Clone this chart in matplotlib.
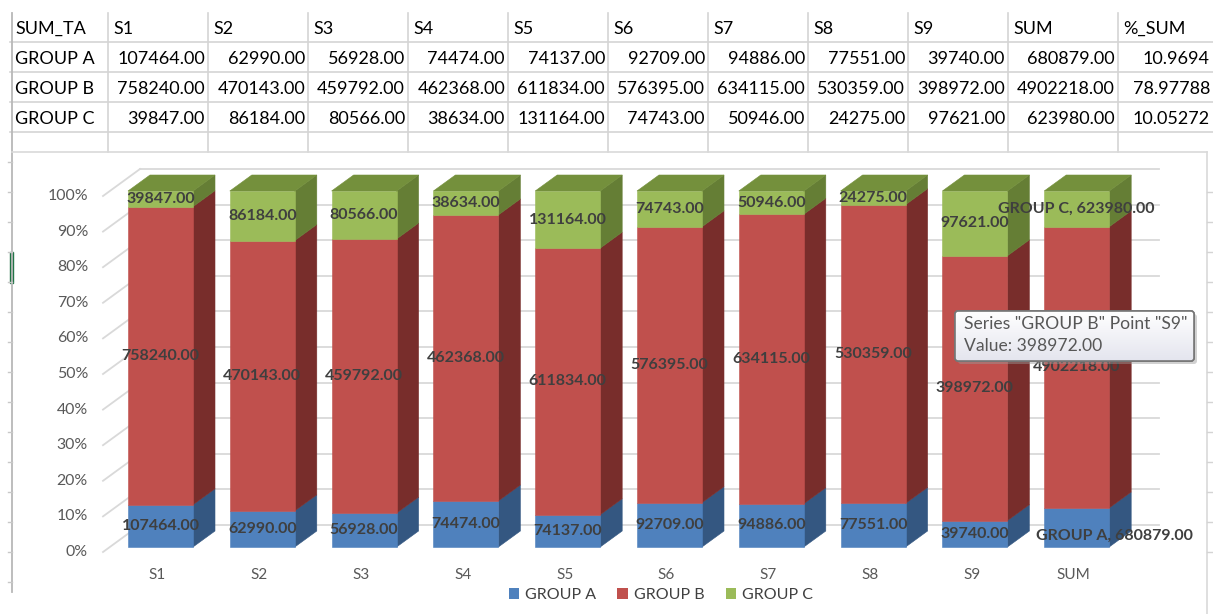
import numpy as np
import matplotlib
matplotlib.use("Agg")
import matplotlib.pyplot as plt
from matplotlib.patches import Polygon, Rectangle, FancyBboxPatch

# ---------------- data ----------------
categories = ["S1", "S2", "S3", "S4", "S5", "S6", "S7", "S8", "S9", "SUM"]
groups = ["GROUP A", "GROUP B", "GROUP C"]
group_a = [107464, 62990, 56928, 74474, 74137, 92709, 94886, 77551, 39740, 680879]
group_b = [758240, 470143, 459792, 462368, 611834, 576395, 634115, 530359, 398972, 4902218]
group_c = [39847, 86184, 80566, 38634, 131164, 74743, 50946, 24275, 97621, 623980]
pct_sum = ["10.9694", "78.97788", "10.05272"]
table_header = ["SUM_TA"] + categories + ["%_SUM"]
y_ticks = [0, 10, 20, 30, 40, 50, 60, 70, 80, 90, 100]
tooltip_group = "GROUP B"
tooltip_cat = "S9"

# ---------------- style ----------------
plt.rcParams['font.family'] = ['Lato', 'DejaVu Sans']
front_cols = ['#4F81BD', '#C0504D', '#9BBB59']
side_cols = ['#345781', '#782D2B', '#657E35']
top_col = '#74903C'
grid_c = '#D4D4D4'
wall_c = '#D9D9D9'

W, H = 1213, 614
fig = plt.figure(figsize=(W / 100, H / 100), dpi=100)
fig.patch.set_facecolor('white')

# ---------------- spreadsheet background (pixel coords) ----------------
bg = fig.add_axes([0, 0, 1, 1])
bg.set_xlim(0, W)
bg.set_ylim(H, 0)
bg.axis('off')

col_edges = [10, 108, 208, 308, 408, 508, 608, 708, 808, 908, 1008, 1118, W]
row_lines = [42, 72, 102, 132]
for y in row_lines:
    bg.plot([10, W], [y, y], color=grid_c, lw=1.2)
for x in col_edges[1:-1]:
    bg.plot([x, x], [13, 152], color=grid_c, lw=1.2)
# left sheet border + row ticks
bg.plot([11.5, 11.5], [13, 592], color='#B8B8B8', lw=1.3)
for y in range(162, 592, 30):
    bg.plot([8, 11.5], [y, y], color='#C8C8C8', lw=1)
bg.add_patch(Rectangle((9.5, 252), 3.5, 31, color='#217346'))
# chart border
bg.plot([11.5, 1207], [152, 152], color=wall_c, lw=1.2)
bg.plot([1207, 1207], [152, 614], color=wall_c, lw=1.2)
for y in range(192, 580, 30):
    bg.plot([1207, W], [y, y], color=grid_c, lw=1)

rows_y = [29, 59, 89, 119]
for j, txt in enumerate(table_header):
    bg.text(col_edges[j] + 5, rows_y[0], txt, ha='left', va='center', fontsize=13, color='black')
for r, (name, vals, pct) in enumerate(zip(groups, [group_a, group_b, group_c], pct_sum)):
    y = rows_y[r + 1]
    bg.text(col_edges[0] + 5, y, name, ha='left', va='center', fontsize=13, color='black')
    for k, v in enumerate(vals):
        bg.text(col_edges[k + 2] - 3, y, f"{v:.2f}", ha='right', va='center', fontsize=13, color='black')
    bg.text(col_edges[-1] - 3, y, pct, ha='right', va='center', fontsize=13, color='black')

# ---------------- chart (category / percent coords) ----------------
X0, SX = 160.5, 101.8     # pixel x of first category, pixels per category
Y0, SY = 547.0, 3.56      # pixel y of 0 %, pixels per percent
ax = fig.add_axes([0, 0, 1, 1])
ax.set_xlim(-X0 / SX, (W - X0) / SX)
ax.set_ylim((Y0 - H) / SY, Y0 / SY)
ax.axis('off')
ax.patch.set_alpha(0)


def dpx(px):
    return px / SX


def ppx(px):
    return px / SY


vals = np.array([group_a, group_b, group_c], dtype=float)
totals = vals.sum(axis=0)
shares = vals / totals * 100
x = np.arange(len(categories))

bw = dpx(65)
dep_x, dep_y = dpx(22), ppx(16)
wall_x, wall_y = dpx(30), ppx(22)
axf_x, axf_y = dpx(-7), ppx(-5)
left_front = (103 - X0) / SX
right_back = (1159 - X0) / SX

# back wall gridlines and diagonal side-wall lines
for p in y_ticks:
    ax.plot([left_front + dpx(37), right_back], [p + wall_y, p + wall_y], color=wall_c, lw=1.3, zorder=1)
    ax.plot([left_front, left_front + dpx(37)], [p + axf_y, p + wall_y], color=wall_c, lw=1.3, zorder=1)
    ax.text((88 - X0) / SX, p + axf_y, f"{p}%", ha='right', va='center', fontsize=11.4, color='#595959')

for i, c in enumerate(categories):
    ax.text(i + dpx(-3), ppx(-28), c, ha='center', va='center', fontsize=11, color='#595959')

# bars
bottoms = np.zeros(len(categories))
for g in range(len(groups)):
    h = shares[g]
    ax.bar(x, h, bw, bottom=bottoms, color=front_cols[g], edgecolor=front_cols[g], lw=0.4, zorder=3)
    for i in range(len(categories)):
        xr = x[i] + bw / 2
        b0, b1 = bottoms[i], bottoms[i] + h[i]
        ax.add_patch(Polygon([(xr, b0), (xr + dep_x, b0 + dep_y), (xr + dep_x, b1 + dep_y), (xr, b1)],
                             closed=True, fc=side_cols[g], ec=side_cols[g], lw=0.4, zorder=2.9))
    bottoms = bottoms + h

for i in range(len(categories)):
    xl, xr = x[i] - bw / 2, x[i] + bw / 2
    t = bottoms[i]
    ax.add_patch(Polygon([(xl, t), (xl + dep_x, t + dep_y), (xr + dep_x, t + dep_y), (xr, t)],
                         closed=True, fc=top_col, ec=top_col, lw=0.4, zorder=3.1))

# data labels
named_points = {(0, 9), (2, 9)}
nudges = {(0, 9): (38, -8)}
bottoms = np.zeros(len(categories))
for g in range(len(groups)):
    for i in range(len(categories)):
        mid = bottoms[i] + shares[g][i] / 2
        txt = f"{vals[g][i]:.2f}"
        if (g, i) in named_points:
            txt = f"{groups[g]}, {txt}"
        nx, ny = nudges.get((g, i), (0, 0))
        ax.text(x[i] + dpx(nx), mid + ppx(ny), txt, ha='center', va='center', fontsize=11.5,
                fontweight='bold', color='#3F3F3F', zorder=6)
    bottoms = bottoms + shares[g]

# legend
handles = [Rectangle((0, 0), 1, 1, fc=c, ec='none') for c in front_cols]
fig.legend(handles, groups, loc='center', bbox_to_anchor=(661 / W, 1 - 595 / H), ncol=3,
           frameon=False, fontsize=11.5, labelcolor='#404040', handlelength=0.65, handleheight=0.65,
           handletextpad=0.4, columnspacing=1.3)

# ---------------- tooltip overlay ----------------
ov = fig.add_axes([0, 0, 1, 1])
ov.set_xlim(0, W)
ov.set_ylim(H, 0)
ov.axis('off')
ov.patch.set_alpha(0)
tx0, ty0, tw, th = 955, 311, 239, 50
ov.add_patch(FancyBboxPatch((tx0 + 3, ty0 + 3), tw, th, boxstyle="round,pad=0,rounding_size=3",
                            fc='#9A9A9A', ec='none', alpha=0.45))
box = FancyBboxPatch((tx0, ty0), tw, th, boxstyle="round,pad=0,rounding_size=3",
                     fc='white', ec='#767676', lw=1.2, zorder=3)
ov.add_patch(box)
grad = np.linspace(0, 1, 64)[:, None]
cmap = matplotlib.colors.LinearSegmentedColormap.from_list('tt', ['#FFFFFF', '#E4E5EE'])
im = ov.imshow(grad, extent=(tx0, tx0 + tw, ty0 + th, ty0), cmap=cmap, aspect='auto', zorder=3.5,
               origin='upper')
im.set_clip_path(box)
ov.add_patch(FancyBboxPatch((tx0, ty0), tw, th, boxstyle="round,pad=0,rounding_size=3",
                            fc='none', ec='#767676', lw=1.2, zorder=4))
ov.set_xlim(0, W)
ov.set_ylim(H, 0)
ti = categories.index(tooltip_cat)
tg = groups.index(tooltip_group)
ov.text(tx0 + 9, ty0 + 13, f'Series "{tooltip_group}" Point "{tooltip_cat}"', ha='left', va='center',
        fontsize=12.6, color='#575757', zorder=5)
ov.text(tx0 + 9, ty0 + 35, f"Value: {vals[tg][ti]:.2f}", ha='left', va='center',
        fontsize=12.6, color='#575757', zorder=5)

fig.savefig("out.png", dpi=100, facecolor='white')
